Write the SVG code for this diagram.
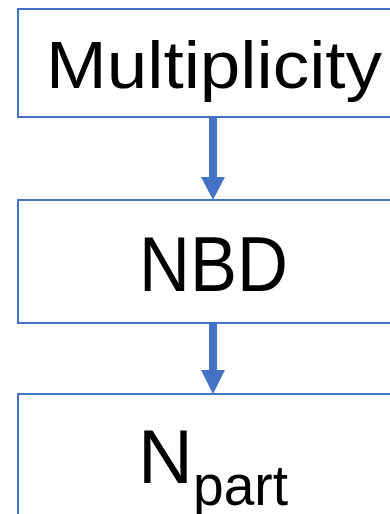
<svg xmlns="http://www.w3.org/2000/svg" width="390" height="514" viewBox="0 0 390 514">
<style>
.box{fill:#fff;stroke:#4472C4;stroke-width:2}
.t{font-family:"Liberation Sans",Arial,sans-serif;fill:#000}
.conn{stroke:#4472C4;stroke-width:8;fill:none}
.head{fill:#4472C4}
</style>
<rect width="390" height="514" fill="#fff"/>
<g id="connectors">
<line class="conn" x1="213" y1="118" x2="213" y2="178"/>
<polygon class="head" points="201,177 225,177 213,200"/>
<line class="conn" x1="213" y1="324" x2="213" y2="371"/>
<polygon class="head" points="201,370 225,370 213,394"/>
</g>
<g id="multiplicity">
<rect class="box" x="18" y="9" width="400" height="108"/>
<text class="t" x="46" y="88" font-size="67" textLength="336" lengthAdjust="spacingAndGlyphs">Multiplicity</text>
</g>
<g id="nbd">
<rect class="box" x="18" y="200" width="400" height="123"/>
<text class="t" x="139" y="291" font-size="77" textLength="149" lengthAdjust="spacingAndGlyphs">NBD</text>
</g>
<g id="npart">
<rect class="box" x="18" y="394" width="400" height="140"/>
<text class="t" x="138" y="483" font-size="76">N<tspan x="193" y="505" font-size="58" textLength="95" lengthAdjust="spacingAndGlyphs">part</tspan></text>
</g>
</svg>
